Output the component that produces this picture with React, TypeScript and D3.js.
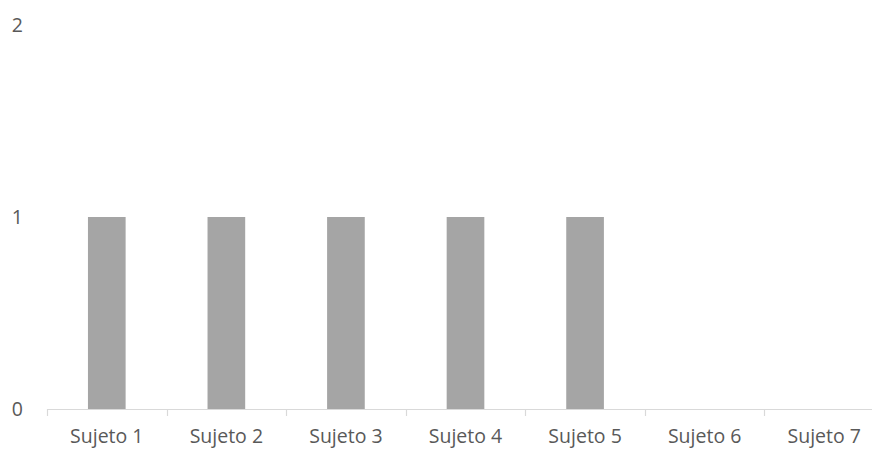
import { useEffect, useRef } from "react";
import * as d3 from "d3";

const categories = ["Sujeto 1", "Sujeto 2", "Sujeto 3", "Sujeto 4", "Sujeto 5", "Sujeto 6", "Sujeto 7"];
const values = [1, 1, 1, 1, 1, 0, 0];
const yTicks = [0, 1, 2];

const W = 872;
const H = 450;
const X0 = 47;
const X1 = 884; // band runs slightly past the right edge, as in the source
const Y0 = 409;
const Y1 = 25;

export default function App() {
  const ref = useRef<SVGSVGElement | null>(null);

  useEffect(() => {
    const svg = d3.select(ref.current);
    svg.selectAll("*").remove();

    const x = d3.scaleBand<string>().domain(categories).range([X0, X1]).paddingInner(0).paddingOuter(0);
    const y = d3.scaleLinear().domain([0, 2]).range([Y0, Y1]);
    const barW = x.bandwidth() * 0.315;
    const font = "'Open Sans', sans-serif";

    // bars
    svg
      .append("g")
      .selectAll("rect")
      .data(values.map((v, i) => ({ v, c: categories[i] })).filter((d) => d.v > 0))
      .join("rect")
      .attr("x", (d) => x(d.c)! + x.bandwidth() / 2 - barW / 2)
      .attr("width", barW)
      .attr("y", (d) => y(d.v))
      .attr("height", (d) => y(0) - y(d.v))
      .attr("fill", "#a5a5a5");

    // x axis line + ticks
    svg
      .append("line")
      .attr("x1", X0)
      .attr("x2", W)
      .attr("y1", Y0 + 0.5)
      .attr("y2", Y0 + 0.5)
      .attr("stroke", "#d9d9d9")
      .attr("stroke-width", 1.2);

    const tickXs = categories.map((c) => x(c)!);
    svg
      .append("g")
      .selectAll("line")
      .data(tickXs)
      .join("line")
      .attr("x1", (d) => Math.round(d) + 0.5)
      .attr("x2", (d) => Math.round(d) + 0.5)
      .attr("y1", Y0)
      .attr("y2", Y0 + 7)
      .attr("stroke", "#d9d9d9")
      .attr("stroke-width", 1.2);

    // x labels
    svg
      .append("g")
      .selectAll("text")
      .data(categories)
      .join("text")
      .attr("x", (d) => x(d)! + x.bandwidth() / 2)
      .attr("y", 443)
      .attr("text-anchor", "middle")
      .attr("font-family", font)
      .attr("font-size", 19.5)
      .attr("fill", "#595959")
      .text((d) => d);

    // y labels
    svg
      .append("g")
      .selectAll("text")
      .data(yTicks)
      .join("text")
      .attr("x", 23)
      .attr("y", (d) => y(d))
      .attr("dy", "0.36em")
      .attr("text-anchor", "end")
      .attr("font-family", font)
      .attr("font-size", 19.5)
      .attr("fill", "#595959")
      .text((d) => d);
  }, []);

  return (
    <div style={{ position: "fixed", left: 0, top: 0, background: "#fff" }}>
      <svg ref={ref} width={W} height={H} viewBox={`0 0 ${W} ${H}`} style={{ display: "block" }} />
    </div>
  );
}
